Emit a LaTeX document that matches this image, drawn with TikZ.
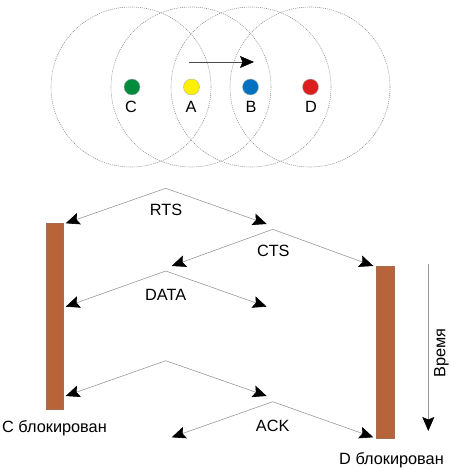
\documentclass[tikz,border=0pt]{standalone}
\usepackage{fontspec}
\setmainfont{Liberation Sans}
\usetikzlibrary{arrows.meta}
\definecolor{barbrown}{RGB}{184,100,58}
\definecolor{dotgreen}{RGB}{0,140,60}
\definecolor{dotyellow}{RGB}{255,240,0}
\definecolor{dotblue}{RGB}{0,112,192}
\definecolor{dotred}{RGB}{220,30,30}
\begin{document}
\begin{tikzpicture}[x=1pt,y=-1pt,
  coverage/.style={draw=gray!85, line width=0.6pt, dash pattern=on 1pt off 1pt},
  station/.style={circle, draw=gray!60, line width=0.4pt, minimum size=16pt, inner sep=0pt},
  lbl/.style={font=\fontsize{16.3}{19}\selectfont, inner sep=0pt},
  tip/.style={-{Stealth[length=14pt,width=12pt,inset=2.5pt,color=black]}},
  msg/.style={draw=gray!80, line width=0.6pt, tip},
  blocked/.style={fill=barbrown, draw=barbrown!70!gray, line width=0.5pt}]
\useasboundingbox (0,0) rectangle (450,470);
% coverage circles
\draw[coverage] (131,87) circle (80);
\draw[coverage] (191,87) circle (80);
\draw[coverage] (251,87) circle (80);
\draw[coverage] (310,87) circle (80);
% stations
\node[station, fill=dotgreen] (C) at (132,87) {};
\node[station, fill=dotyellow] (A) at (191.5,87) {};
\node[station, fill=dotblue] (B) at (250.5,87) {};
\node[station, fill=dotred] (D) at (310.5,87) {};
\node[lbl] (lC) at (131,107) {C};
\node[lbl] (lA) at (191,107) {A};
\node[lbl] (lB) at (251,107) {B};
\node[lbl] (lD) at (311,107) {D};
\coordinate (dirS) at (189,62);
\coordinate (dirE) at (254,62);
\draw[draw=black!70, line width=0.6pt, tip] (dirS) -- (dirE);
% blocking bars
\draw[blocked] (46,223) rectangle (63,409);
\draw[blocked] (376,266) rectangle (394,438);
% message exchanges
\coordinate (rtsA) at (165.7,188.3);
\coordinate (rtsL) at (65.7,223.3);
\coordinate (rtsR) at (266.7,224);
\coordinate (ctsA) at (272.7,229.3);
\coordinate (ctsL) at (171.7,266);
\coordinate (ctsR) at (373.3,266);
\coordinate (datA) at (165.7,271);
\coordinate (datL) at (65.7,306.7);
\coordinate (datR) at (266.7,306.7);
\coordinate (x4A) at (165.7,360.7);
\coordinate (x4L) at (65.7,396);
\coordinate (x4R) at (266.7,396);
\coordinate (ackA) at (272.7,401.7);
\coordinate (ackL) at (171.7,437.3);
\coordinate (ackR) at (373.3,437.3);
\draw[msg] (rtsA) -- (rtsL);
\draw[msg] (rtsA) -- (rtsR);
\draw[msg] (ctsA) -- (ctsL);
\draw[msg] (ctsA) -- (ctsR);
\draw[msg] (datA) -- (datL);
\draw[msg] (datA) -- (datR);
\draw[msg] (x4A) -- (x4L);
\draw[msg] (x4A) -- (x4R);
\draw[msg] (ackA) -- (ackL);
\draw[msg] (ackA) -- (ackR);
\node[lbl] (rts) at (166,209.5) {RTS};
\node[lbl] (cts) at (273.3,251) {CTS};
\node[lbl] (data) at (165.7,295) {DATA};
\node[lbl] (ack) at (272.7,426) {ACK};
\node[lbl] (cblk) at (54.5,428.5) {C блокирован};
\node[lbl] (dblk) at (391.5,460) {D блокирован};
% time axis
\coordinate (tS) at (428.3,264);
\coordinate (tE) at (428.3,431);
\draw[draw=gray!80, line width=0.6pt, tip] (tS) -- (tE);
\node[lbl, rotate=90] (time) at (441.5,353) {Время};
\end{tikzpicture}
\end{document}
